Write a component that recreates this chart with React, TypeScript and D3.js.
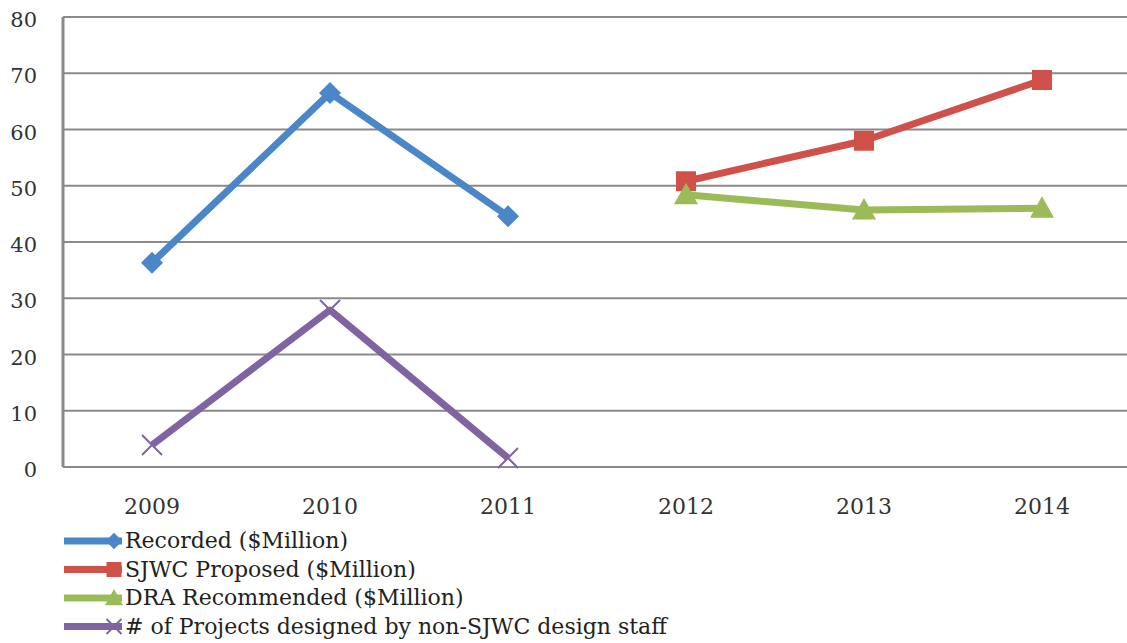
import React from "react";
import * as d3 from "d3";

const years = ["2009", "2010", "2011", "2012", "2013", "2014"];
const recorded: (number | null)[] = [36.3, 66.5, 44.6, null, null, null];
const sjwcProposed: (number | null)[] = [null, null, null, 50.8, 58.0, 68.8];
const draRecommended: (number | null)[] = [null, null, null, 48.4, 45.7, 46.0];
const projects: (number | null)[] = [3.9, 27.9, 1.6, null, null, null];
const yTicks = [0, 10, 20, 30, 40, 50, 60, 70, 80];

const seriesNames = [
  "Recorded ($Million)",
  "SJWC Proposed ($Million)",
  "DRA Recommended ($Million)",
  "# of Projects designed by non-SJWC design staff",
];
const seriesColors = ["#4a86c8", "#d0504a", "#9bbb59", "#8064a2"];
const seriesMarkers = ["diamond", "square", "triangle", "x"];
const seriesData = [recorded, sjwcProposed, draRecommended, projects];

const W = 1127;
const H = 643;
const left = 63;
const top = 17;
const bottom = 467;

function Marker({ type, x, y, color, k = 1 }: { type: string; x: number; y: number; color: string; k?: number }) {
  if (type === "diamond") {
    const s = 11 * k;
    return <path d={`M${x},${y - s}L${x + s},${y}L${x},${y + s}L${x - s},${y}Z`} fill={color} />;
  }
  if (type === "square") {
    const s = 10 * k;
    return <rect x={x - s} y={y - s} width={2 * s} height={2 * s} fill={color} />;
  }
  if (type === "triangle") {
    const s = 12 * k;
    return <path d={`M${x},${y - s}L${x + s},${y + s * 0.8}L${x - s},${y + s * 0.8}Z`} fill={color} />;
  }
  const s = 10 * k;
  return (
    <path
      d={`M${x - s},${y - s}L${x + s},${y + s}M${x - s},${y + s}L${x + s},${y - s}`}
      stroke={color}
      strokeWidth={2}
    />
  );
}

export default function App() {
  const x = d3.scaleBand<string>().domain(years).range([left, left + 178 * 6]);
  const y = d3.scaleLinear().domain([0, 80]).range([bottom, top]);
  const cx = (d: string) => (x(d) as number) + x.bandwidth() / 2;
  const line = d3
    .line<[string, number | null]>()
    .defined((d) => d[1] !== null)
    .x((d) => cx(d[0]))
    .y((d) => y(d[1] as number));

  const font = "DejaVu Serif";

  return (
    <svg
      width={W}
      height={H}
      style={{ position: "absolute", left: 0, top: 0, background: "#fff" }}
    >
      {yTicks.map((t) => (
        <g key={t}>
          <line x1={left} x2={W} y1={y(t)} y2={y(t)} stroke="#8a8a8a" strokeWidth={2} />
          <text
            x={37}
            y={y(t) + 10}
            textAnchor="end"
            fontFamily={font}
            fontSize={21}
            fill="#333"
          >
            {t}
          </text>
        </g>
      ))}
      <line x1={left} x2={left} y1={top} y2={bottom} stroke="#8a8a8a" strokeWidth={3} />
      {years.map((yr) => (
        <text
          key={yr}
          x={cx(yr)}
          y={514}
          textAnchor="middle"
          fontFamily={font}
          fontSize={22}
          fill="#333"
        >
          {yr}
        </text>
      ))}
      {seriesData.map((data, i) => {
        const pts = years.map((yr, j) => [yr, data[j]] as [string, number | null]);
        return (
          <g key={i}>
            <path
              d={line(pts) || ""}
              fill="none"
              stroke={seriesColors[i]}
              strokeWidth={7}
              strokeLinejoin="round"
            />
            {pts
              .filter((p) => p[1] !== null)
              .map((p) => (
                <Marker
                  key={p[0]}
                  type={seriesMarkers[i]}
                  x={cx(p[0])}
                  y={y(p[1] as number)}
                  color={seriesColors[i]}
                />
              ))}
          </g>
        );
      })}
      {seriesNames.map((name, i) => {
        const ly = 541 + i * 28.5;
        return (
          <g key={name}>
            <line x1={64} x2={122} y1={ly} y2={ly} stroke={seriesColors[i]} strokeWidth={7} />
            <Marker type={seriesMarkers[i]} x={114} y={ly} color={seriesColors[i]} k={0.75} />
            <text x={125} y={ly + 7} fontFamily={font} fontSize={22} fill="#222">
              {name}
            </text>
          </g>
        );
      })}
    </svg>
  );
}
